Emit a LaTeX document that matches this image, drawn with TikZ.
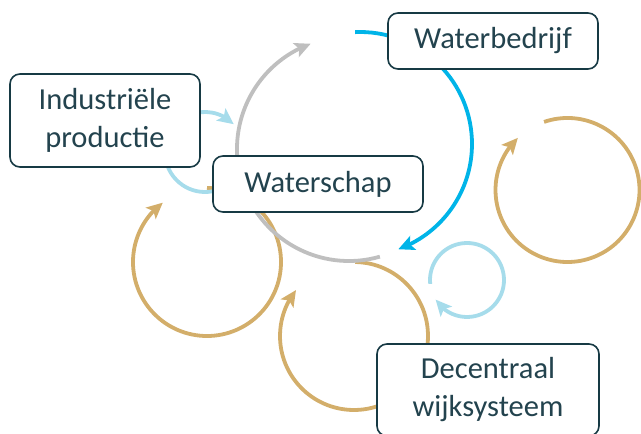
\documentclass[tikz,border=0pt]{standalone}
\usepackage{fontspec}
\setmainfont{Carlito}
\usepackage{xcolor}
\usepackage{tikz}
\usetikzlibrary{arrows.meta, bending, calc}
\definecolor{boxline}{HTML}{173A44}
\definecolor{boxtext}{HTML}{23434E}
\definecolor{loopgray}{HTML}{BFBFBF}
\definecolor{loopblue}{HTML}{00B4E8}
\definecolor{looplight}{HTML}{A6DCEB}
\definecolor{loopgold}{HTML}{D3AE6A}
\tikzstyle{party} = [rectangle, rounded corners=10pt, draw=boxline, line width=1.6pt, fill=white, text=boxtext, align=center, font=\fontsize{30.5}{38}\selectfont]
\tikzstyle{flow} = [line width=3.8pt, -{Stealth[length=16pt,width=15pt,inset=3.5pt]}]
\tikzstyle{grayflow} = [flow, draw=loopgray]
\tikzstyle{blueflow} = [flow, draw=loopblue]
\tikzstyle{lightflow} = [flow, draw=looplight]
\tikzstyle{goldflow} = [flow, draw=loopgold]

\begin{document}
\begin{tikzpicture}[x=1pt, y=1pt]
  \useasboundingbox (0,0) rectangle (641,434);

  % centres of the circular arrows
  \coordinate (graymid) at (349,285);
  \coordinate (bluemid) at (360,290);
  \coordinate (lightleft) at (205,282);
  \coordinate (lightright) at (467,154);
  \coordinate (goldright) at (567.5,244);
  \coordinate (goldleft) at (207,172);
  \coordinate (goldlow) at (354,98);

  \draw[goldflow] (goldleft) ++(90:74) arc[start angle=90, end angle=-233.3, radius=74pt];
  \draw[goldflow] (goldlow) ++(89:74) arc[start angle=89, end angle=-218.4, radius=74pt];
  \draw[goldflow] (goldright) ++(109:72) arc[start angle=109, end angle=-226.4, radius=72pt];
  \draw[lightflow] (lightleft) ++(-40:40) arc[start angle=-40, end angle=-316, radius=40pt];
  \draw[lightflow] (lightright) ++(186:37) arc[start angle=186, end angle=-148, radius=37pt];
  \draw[grayflow] (graymid) ++(-74:112) arc[start angle=-74, end angle=-250, radius=112pt];
  \draw[blueflow] (bluemid) ++(92.5:112) arc[start angle=92.5, end angle=-70, radius=112pt];

  \node (industrie) [party, minimum width=190pt, minimum height=93pt] at (105,313.5) {Industriële\\productie};
  \node (waterschap) [party, minimum width=210pt, minimum height=56pt] at (318,250) {Waterschap};
  \node (waterbedrijf) [party, minimum width=210pt, minimum height=56pt] at (493,393) {Waterbedrijf};
  \node (wijk) [party, minimum width=222pt, minimum height=92pt] at (488,44) {Decentraal\\wijksysteem};
\end{tikzpicture}
\end{document}
